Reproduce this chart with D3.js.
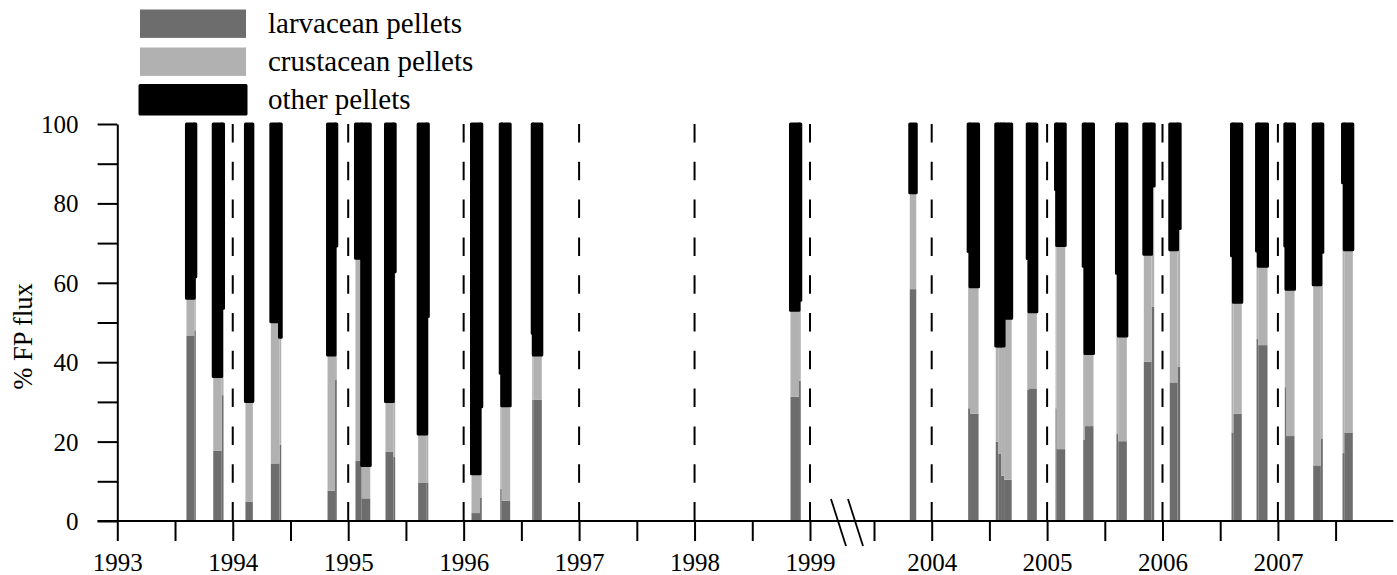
<!DOCTYPE html>
<html><head><meta charset="utf-8">
<script src="https://cdn.jsdelivr.net/npm/d3@7"></script>
<style>
body{margin:0;background:#fff}
svg{display:block}
text{font-family:"Liberation Serif","Times New Roman",serif;fill:#000}
</style>
</head><body>
<svg id="chart" width="1397" height="575"></svg>
<script>
// ---- data (decimal years of each sediment-trap sample interval, % of FP flux) ----
const sampleStart = [1993.599,1993.667,1993.831,1993.904,1994.110,1994.330,1994.405,1994.821,1994.886,1995.063,
  1995.117,1995.323,1995.391,1995.606,1995.680,1996.068,1996.142,1996.317,1996.330,1996.594,
  1996.603,1998.831,1998.905,2003.810,2004.316,2004.332,2004.555,2004.577,2004.601,2004.627,
  2004.828,2004.843,2005.073,2005.083,2005.313,2005.328,2005.601,2005.617,2005.838,2005.905,
  2006.063,2006.130,2006.598,2006.614,2006.815,2006.830,2007.060,2007.070,2007.306,2007.372,
  2007.560,2007.575];
const sampleEnd = [1993.667,1993.680,1993.904,1993.920,1994.174,1994.405,1994.420,1994.886,1994.901,1995.117,
  1995.191,1995.391,1995.407,1995.680,1995.694,1996.142,1996.157,1996.330,1996.403,1996.603,
  1996.677,1998.905,1998.920,2003.866,2004.332,2004.406,2004.577,2004.601,2004.627,2004.693,
  2004.843,2004.911,2005.083,2005.157,2005.328,2005.402,2005.617,2005.691,2005.905,2005.928,
  2006.130,2006.153,2006.614,2006.687,2006.830,2006.910,2007.070,2007.144,2007.372,2007.389,
  2007.575,2007.649];
const larvacean = [46.6,48.0,17.7,31.7,4.9,14.5,19.2,7.6,35.5,15.2,
  5.7,17.5,16.1,9.7,9.7,2.0,5.9,8.1,5.1,30.5,
  30.5,31.3,35.3,58.4,28.4,27.0,20.0,17.0,11.4,10.4,
  33.0,33.4,28.4,18.1,20.5,23.9,21.9,20.1,40.1,54.0,
  34.9,38.9,22.3,27.0,45.9,44.3,33.7,21.4,14.0,20.8,
  17.1,22.3];
const crustacean = [9.5,13.5,18.7,21.9,25.2,35.7,27.1,34.2,33.8,51.0,
  8.3,12.6,46.7,12.2,41.8,9.9,22.9,29.1,23.9,16.8,
  11.3,21.8,20.3,24.3,39.5,32.0,24.1,27.1,32.7,40.7,
  33.1,19.3,55.1,51.3,43.7,18.3,40.5,26.5,27.1,30.4,
  33.4,34.8,44.5,28.1,22.1,19.9,35.6,37.0,45.5,46.9,
  68.1,46.0];
const other = [43.9,38.5,63.6,46.4,69.9,49.8,53.7,58.2,30.7,33.8,
  86.0,69.9,37.2,78.1,48.5,88.1,71.2,62.8,71.0,52.7,
  58.2,46.9,44.4,17.3,32.1,41.0,55.9,55.9,55.9,48.9,
  33.9,47.3,16.5,30.6,35.8,57.8,37.6,53.4,32.8,15.6,
  31.7,26.3,33.2,44.9,32.0,35.8,30.7,41.6,40.5,32.3,
  14.8,31.7];
const seriesNames = ["larvacean pellets","crustacean pellets","other pellets"];
const yTicks = [0,10,20,30,40,50,60,70,80,90,100];
const yearLabels = [1993,1994,1995,1996,1997,1998,1999,2004,2005,2006,2007];
const halfYearTicks = [1993,1993.5,1994,1994.5,1995,1995.5,1996,1996.5,1997,1997.5,1998,1998.5,1999,
  2003.5,2004,2004.5,2005,2005.5,2006,2006.5,2007,2007.5];
const dashedYears = [1994,1995,1996,1997,1998,1999,2004,2005,2006,2007];
const axisBreak = [1999.3205, 2003.266]; // 1999.3 -> 2003.3 omitted

// ---- styles ----
const colors = ["#6d6d6d","#b1b1b1","#000000"];
const svg = d3.select("#chart");
const plotLeft = 117.3, plotRight = 1393.3, plotTop = 124, plotBottom = 521;

// broken (piecewise) time scale
const xBreakPx = 847;
const x = d3.scaleLinear()
  .domain([1993, axisBreak[0], axisBreak[1], 2008])
  .range([plotLeft, xBreakPx, xBreakPx, plotRight]);
const y = d3.scaleLinear().domain([0,100]).range([plotBottom, plotTop]);

// ---- dashed year lines ----
svg.append("g").selectAll("line").data(dashedYears).join("line")
  .attr("x1", d => x(d)).attr("x2", d => x(d))
  .attr("y1", y(100)).attr("y2", y(0))
  .attr("stroke", "#000").attr("stroke-width", 2)
  .attr("stroke-dasharray", "18.5,19.3");

// ---- stacked bars ----
const rows = sampleStart.map((s, i) => ({
  start: s, end: sampleEnd[i],
  [seriesNames[0]]: larvacean[i],
  [seriesNames[1]]: crustacean[i],
  [seriesNames[2]]: other[i]
}));
const stacked = d3.stack().keys(seriesNames)(rows);

svg.append("g").selectAll("g").data(stacked).join("g")
  .attr("fill", (d, i) => colors[i])
  .each(function(layer, li) {
    d3.select(this).selectAll("rect").data(layer).join("rect")
      .attr("x", d => x(d.data.start))
      .attr("width", d => Math.max(0.5, x(d.data.end) - x(d.data.start)))
      .attr("y", d => y(d[1]))
      .attr("height", d => Math.max(0, y(d[0]) - y(d[1])))
      .attr("stroke", li === 2 ? "#000" : "none")
      .attr("stroke-width", li === 2 ? 3 : 0)
      .attr("stroke-linejoin", "round");
  });

// ---- y axis ----
const yAxis = d3.axisLeft(y).tickValues(yTicks).tickSize(19.7).tickSizeOuter(0).tickPadding(19)
  .tickFormat(d => d % 20 === 0 ? d : "");
const gy = svg.append("g").attr("transform", `translate(${plotLeft},0)`).call(yAxis);
gy.selectAll("path,line").attr("stroke", "#000").attr("stroke-width", 2);
gy.selectAll("text").attr("font-size", 25).attr("font-family", '"Liberation Serif",serif')
  .attr("dy", "0.34em").attr("fill", "#000");

// ---- x axis ----
const xAxis = d3.axisBottom(x).tickValues(halfYearTicks).tickSize(20).tickSizeOuter(0).tickPadding(12)
  .tickFormat(d => yearLabels.includes(d) ? String(d) : "");
const gx = svg.append("g").attr("transform", `translate(0,${plotBottom})`).call(xAxis);
gx.select(".domain").remove();
gx.selectAll("line").attr("stroke", "#000").attr("stroke-width", 2);
gx.selectAll("text").attr("font-size", 25).attr("font-family", '"Liberation Serif",serif').attr("fill", "#000");
gx.append("line").attr("x1", x(1993) - 19.7).attr("x2", x(2008)).attr("y1", 0).attr("y2", 0)
  .attr("stroke", "#000").attr("stroke-width", 2);

// axis break marks
const bx = x(axisBreak[0]);
svg.append("g").selectAll("line").data([-8.5, 8.5]).join("line")
  .attr("x1", d => bx + d - 7.5).attr("x2", d => bx + d + 7.5)
  .attr("y1", plotBottom - 22).attr("y2", plotBottom + 25)
  .attr("stroke", "#000").attr("stroke-width", 1.8);

// y title
svg.append("text")
  .attr("transform", `translate(31.5,${(plotTop + plotBottom) / 2 + 14}) rotate(-90)`)
  .attr("text-anchor", "middle").attr("font-size", 26.5)
  .text("% FP flux");

// ---- legend ----
const lg = svg.append("g").attr("transform", "translate(140,9.5)");
seriesNames.forEach((name, i) => {
  lg.append("rect").attr("x", 0).attr("y", i * 38).attr("width", 106).attr("height", i === 2 ? 28.5 : 28.4)
    .attr("fill", colors[i])
    .attr("stroke", i === 2 ? "#000" : "none").attr("stroke-width", i === 2 ? 3 : 0)
    .attr("stroke-linejoin", "round");
  lg.append("text").attr("x", 128).attr("y", i * 38 + 23).attr("font-size", 29).text(name);
});
</script>
</body></html>
